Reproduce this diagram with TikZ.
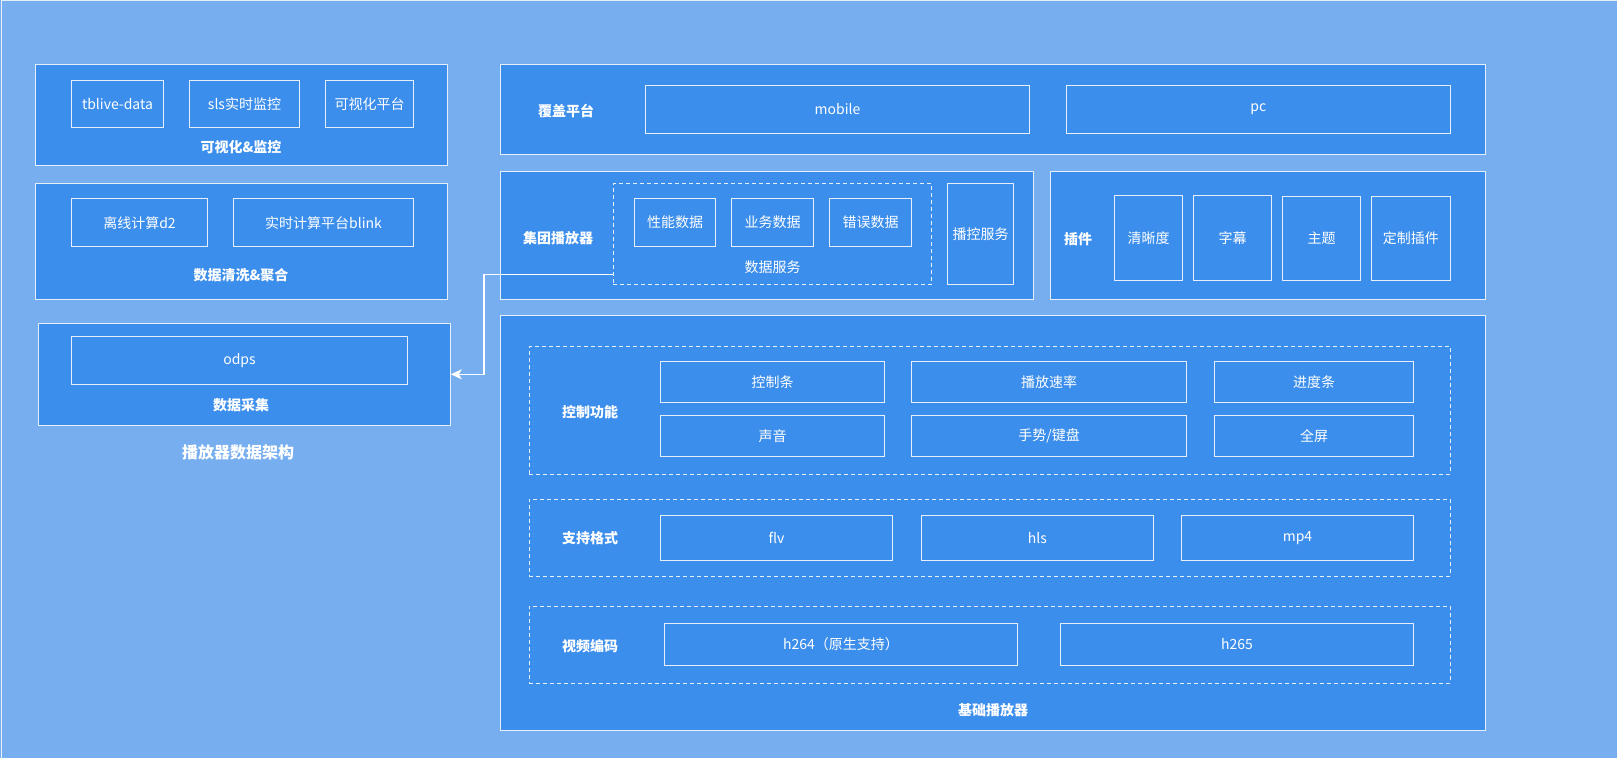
\documentclass[tikz,border=0pt]{standalone}
\usepackage{fontspec}
\setmainfont{Noto Sans CJK SC}
\usetikzlibrary{arrows.meta}
\definecolor{bgblue}{HTML}{76AEF0}
\definecolor{boxblue}{HTML}{3C8EEC}
\definecolor{edgewhite}{HTML}{E6EEF8}
\tikzset{
  outerbox/.style={draw=edgewhite,fill=boxblue,line width=1pt,inner sep=0pt},
  innerbox/.style={draw=edgewhite,fill=boxblue,line width=1pt,inner sep=0pt,text=white,font=\fontsize{14pt}{16pt}\selectfont},
  dashbox/.style={draw=edgewhite,line width=1pt,dash pattern=on 4pt off 3pt,inner sep=0pt},
  lbl/.style={text=white,font=\fontsize{14pt}{16pt}\selectfont\bfseries,inner sep=0pt},
  rlbl/.style={text=white,font=\fontsize{14pt}{16pt}\selectfont,inner sep=0pt},
  conn/.style={draw=white,line width=1.6pt,-{Stealth[length=11pt,width=10pt,inset=3pt]}}
}
\newcommand\mybox[7]{\node[#1,minimum width={(#5)-(#3)},minimum height={(#6)-(#4)}] (#2) at ({((#3)+(#5))/2},{((#4)+(#6))/2}) {#7};}
\begin{document}
\begin{tikzpicture}[x=1pt,y=-1pt]
\useasboundingbox (0,0) rectangle (1617,758);
\fill[bgblue] (0,0) rectangle (1617,758);
\draw[edgewhite,line width=1pt] (1.5,758) -- (1.5,0.8) -- (1617,0.8);

% left column
\mybox{outerbox}{vis}{35.3}{64.3}{447.3}{165.3}{}
\mybox{innerbox}{a1}{71.3}{80.3}{163.7}{127.3}{tblive-data}
\mybox{innerbox}{a2}{189.3}{80.3}{299.7}{127.3}{sls实时监控}
\mybox{innerbox}{a3}{325.3}{80.3}{413.7}{127.3}{可视化平台}
\node[lbl] (visl) at (241,146.7) {可视化\&监控};

\mybox{outerbox}{clean}{35.3}{183.3}{447.3}{299.3}{}
\mybox{innerbox}{b1}{71.3}{198.7}{207.7}{246.7}{离线计算d2}
\mybox{innerbox}{b2}{233.3}{198.7}{413.7}{246.7}{实时计算平台blink}
\node[lbl] (cleanl) at (241,275) {数据清洗\&聚合};

\mybox{outerbox}{collect}{38.3}{323.3}{450.3}{425.3}{}
\mybox{innerbox}{c1}{71.3}{336.7}{407.7}{384.3}{odps}
\node[lbl] (collectl) at (241,405) {数据采集};

\node[text=white,font=\fontsize{16pt}{18pt}\selectfont\bfseries,inner sep=0pt] (title) at (238,452) {播放器数据架构};

% right: coverage
\mybox{outerbox}{cover}{500.3}{64.3}{1485.7}{154.3}{}
\node[lbl] (coverl) at (566,111) {覆盖平台};
\mybox{innerbox}{mobile}{645.3}{85}{1029.7}{133.3}{mobile}
\mybox{innerbox}{pc}{1066.3}{85}{1450.3}{133.3}{pc}

% group player
\mybox{outerbox}{group}{500.3}{171.3}{1033.3}{299}{}
\node[lbl] (groupl) at (558,238.3) {集团播放器};
\mybox{dashbox}{ds}{613.3}{183.3}{931.7}{284.3}{}
\mybox{innerbox}{d1}{634.3}{198.3}{715.8}{246.3}{性能数据}
\mybox{innerbox}{d2}{731.5}{198.3}{813.8}{246.3}{业务数据}
\mybox{innerbox}{d3}{829.5}{198.3}{911.8}{246.3}{错误数据}
\node[rlbl] (dsl) at (772.5,266.7) {数据服务};
\mybox{innerbox}{ctrlsvc}{947.4}{183.3}{1013.6}{284.3}{播控服务}

% plugins
\mybox{outerbox}{plug}{1050.3}{171.3}{1485.7}{299}{}
\node[lbl] (plugl) at (1078,238.7) {插件};
\mybox{innerbox}{p1}{1114.3}{195.3}{1182.7}{280.3}{清晰度}
\mybox{innerbox}{p2}{1193.3}{195.3}{1271.7}{280.3}{字幕}
\mybox{innerbox}{p3}{1282.3}{196.3}{1360.7}{280.3}{主题}
\mybox{innerbox}{p4}{1371.3}{196.3}{1450.3}{280.3}{定制插件}

% base player
\mybox{outerbox}{base}{500.3}{315.3}{1485.7}{730.3}{}
\mybox{dashbox}{ctl}{529.3}{346.7}{1450.3}{474.3}{}
\node[lbl] (ctll) at (590,412) {控制功能};
\mybox{innerbox}{k1}{660.3}{361.3}{884.7}{402.7}{控制条}
\mybox{innerbox}{k2}{911.3}{361.3}{1186.7}{402.7}{播放速率}
\mybox{innerbox}{k3}{1214.3}{361.3}{1413.7}{402.7}{进度条}
\mybox{innerbox}{k4}{660.3}{415.3}{884.7}{456.3}{声音}
\mybox{innerbox}{k5}{911.3}{415.3}{1186.7}{456.3}{手势/键盘}
\mybox{innerbox}{k6}{1214.3}{415.3}{1413.7}{456.3}{全屏}

\mybox{dashbox}{fmt}{529.3}{499.3}{1450.3}{576.3}{}
\node[lbl] (fmtl) at (590,538) {支持格式};
\mybox{innerbox}{f1}{660.3}{515.3}{892.7}{560.3}{flv}
\mybox{innerbox}{f2}{921.3}{515.3}{1153.7}{560.3}{hls}
\mybox{innerbox}{f3}{1181.3}{515.3}{1413.7}{560.3}{mp4}

\mybox{dashbox}{codec}{529.3}{606.3}{1450.3}{683.3}{}
\node[lbl] (codecl) at (590,645.7) {视频编码};
\mybox{innerbox}{h1}{664.3}{623.3}{1017.7}{665.3}{h264（原生支持）}
\mybox{innerbox}{h2}{1060.3}{623.3}{1413.7}{665.3}{h265}

\node[lbl] (basel) at (993,710) {基础播放器};

% connector
\coordinate (bend) at (484,374.3);
\draw[conn] ([yshift=10.3pt]ds.south west) -| (bend) -- (collect.east);
\end{tikzpicture}
\end{document}
